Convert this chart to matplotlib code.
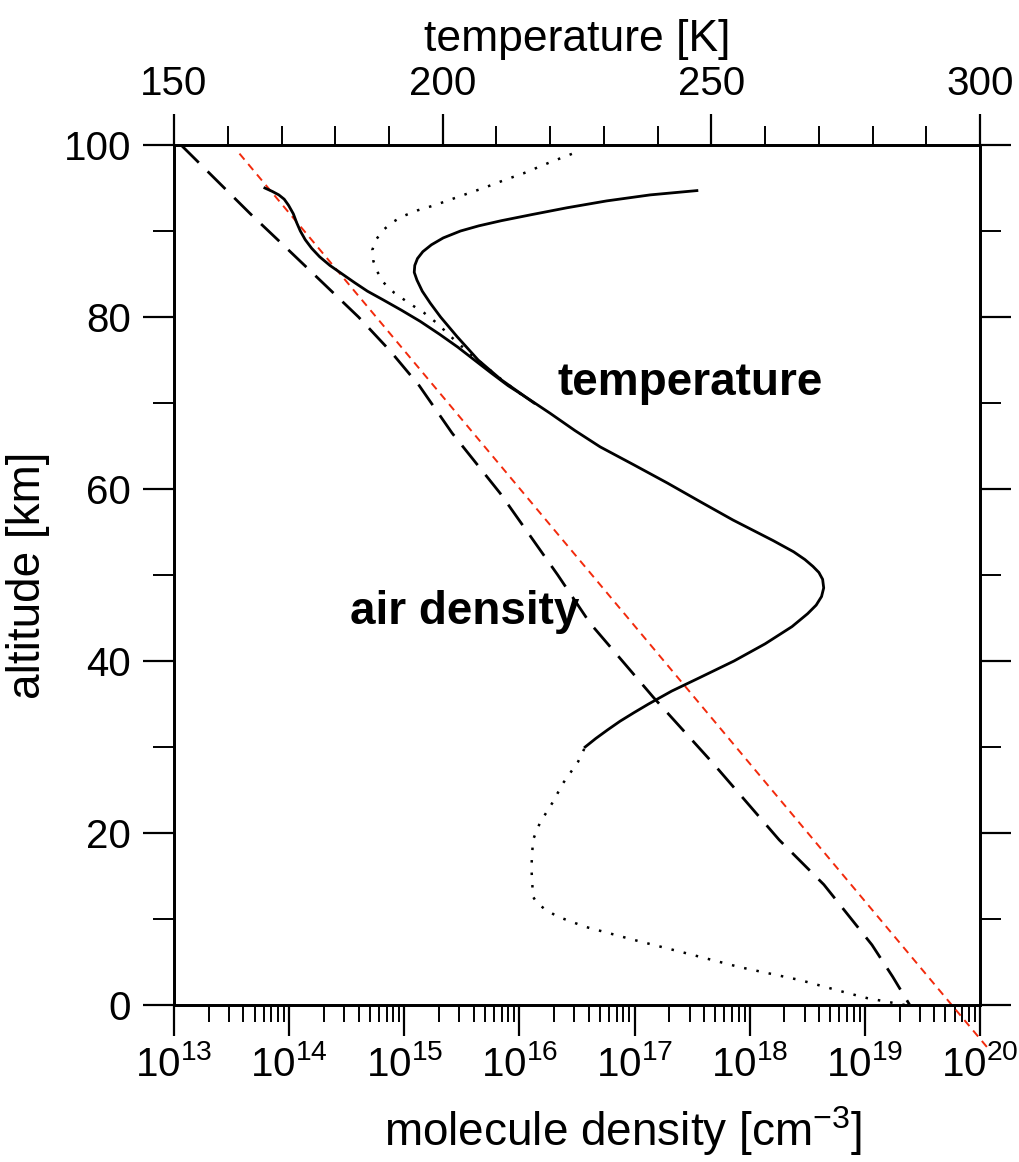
import matplotlib
matplotlib.use("Agg")
import matplotlib.pyplot as plt
from matplotlib.ticker import MultipleLocator, LogLocator, FixedLocator, NullFormatter

plt.rcParams['font.family'] = ['Liberation Sans', 'DejaVu Sans']
plt.rcParams['mathtext.fontset'] = 'custom'
plt.rcParams['mathtext.rm'] = 'Liberation Sans'
plt.rcParams['mathtext.it'] = 'Liberation Sans:italic'
plt.rcParams['mathtext.bf'] = 'Liberation Sans:bold'

# temperature profile, stratosphere/mesosphere (solid)
t_main_alt = [30.0, 31.0, 32.0, 33.0, 34.0, 35.0, 36.5, 38.0, 40.0, 42.0, 44.0, 45.5,
              46.5, 47.5, 48.5, 49.5, 50.3, 51.0, 51.8, 52.7, 54.0, 56.4, 58.5, 60.7,
              62.8, 64.9, 66.8, 68.8, 70.8, 72.7, 75.0, 77.7, 80.0, 81.6, 83.0, 84.3,
              85.2, 86.0, 86.8, 87.6, 88.4, 89.2, 90.0, 90.6, 91.2, 91.9, 92.7, 93.5,
              94.2, 94.7]
t_main_T = [226.5, 228.5, 230.7, 233.0, 235.6, 238.3, 242.6, 247.6, 254.2, 260.0, 265.0, 267.9,
            269.5, 270.5, 270.9, 270.7, 270.0, 268.9, 267.4, 265.3, 261.5, 254.0, 248.0, 241.8,
            235.6, 229.3, 224.6, 220.0, 215.2, 210.9, 206.6, 202.7, 199.6, 197.7, 196.2, 195.2,
            194.7, 194.8, 195.3, 196.3, 197.9, 200.1, 203.3, 206.7, 210.9, 216.5, 223.1, 230.5,
            238.6, 247.3]

# temperature profile, troposphere/lower stratosphere (dotted)
t_low_alt = [0.0, 0.8, 1.4, 2.9, 4.4, 6.2, 7.6, 9.1, 10.3, 11.2, 11.9, 12.6, 16.0,
             19.2, 21.2, 23.5, 25.8, 28.3, 30.0]
t_low_T = [286.0, 279.0, 275.3, 266.5, 255.3, 244.2, 235.4, 226.5, 221.3, 218.9, 217.5, 216.8,
           216.5, 216.8, 218.1, 220.4, 222.4, 225.2, 226.5]

# alternative mesosphere profile (dotted)
t_meso_alt = [71.0, 72.7, 74.5, 76.0, 77.5, 79.3, 80.5, 81.5, 82.8, 84.0, 85.3, 86.5,
              87.8, 89.0, 90.1, 91.0, 91.7, 92.4, 93.0, 94.0, 95.0, 96.0, 96.7, 98.0, 99.2]
t_meso_T = [214.6, 211.0, 207.5, 204.6, 201.9, 198.9, 196.5, 194.0, 191.0, 189.0, 187.8, 187.1,
            186.9, 187.6, 188.9, 190.6, 192.5, 195.3, 198.5, 203.0, 207.6, 211.8, 215.0, 220.0,
            225.0]

# summer mesosphere profile (solid, left)
t_summer_alt = [70.0, 71.0, 72.0, 73.5, 75.0, 76.5, 78.0, 79.5, 80.8, 82.0, 83.0, 84.0,
                85.0, 86.0, 87.0, 88.0, 89.0, 90.0, 91.0, 92.0, 93.0, 93.7, 94.2, 94.6, 95.0]
t_summer_T = [217.0, 214.7, 212.2, 209.0, 205.9, 202.8, 199.4, 195.8, 192.3, 188.9, 186.0, 183.6,
              181.3, 179.0, 177.1, 175.6, 174.4, 173.5, 172.8, 172.2, 171.3, 170.5, 169.5,
              168.3, 166.9]

# air density (long dashed)
dens_alt = [100, 96, 92, 88, 84, 80, 76, 72, 66.5, 59.5, 50, 44.4, 35.8, 28.1,
            19.2, 14, 7, 3.3, 0]
dens_n = [1.15e13, 2.3e13, 4.6e13, 9.5e13, 1.95e14, 4.0e14, 7.6e14, 1.35e15, 2.6e15,
          6.8e15, 2.15e16, 4.1e16, 1.45e17, 4.8e17, 1.8e18, 4.4e18, 1.15e19, 1.74e19, 2.45e19]

# exponential approximation (red)
exp_alt = [99.0, -5.2]
exp_n = [3.7e13, 1.2e20]

decades = [1e13, 1e14, 1e15, 1e16, 1e17, 1e18, 1e19, 1e20]

fig = plt.figure(figsize=(10.19, 11.62), dpi=100)
ax = fig.add_axes([0.1708, 0.1351, 0.7910, 0.7401])
ax2 = ax.twiny()

ax.plot(dens_n, dens_alt, color='black', lw=2, dashes=(9, 4.5))
ax.plot(exp_n, exp_alt, color='#f22a0c', lw=1.4, dashes=(4, 3), clip_on=False)

ax2.plot(t_main_T, t_main_alt, color='black', lw=2)
ax2.plot(t_summer_T, t_summer_alt, color='black', lw=2)
ax2.plot(t_low_T, t_low_alt, color='black', lw=1.8, linestyle=(0, (1, 4)))
ax2.plot(t_meso_T, t_meso_alt, color='black', lw=1.8, linestyle=(0, (1, 4)))

ax.set_xscale('log')
ax.set_xlim(1e13, 1e20)
ax.set_ylim(0, 100)
ax2.set_xlim(150, 300)

ax.xaxis.set_major_locator(FixedLocator(decades))
ax.xaxis.set_minor_locator(LogLocator(base=10, subs=range(2, 10), numticks=100))
ax.xaxis.set_minor_formatter(NullFormatter())
ax.yaxis.set_major_locator(MultipleLocator(20))
ax.yaxis.set_minor_locator(MultipleLocator(10))
ax2.xaxis.set_major_locator(MultipleLocator(50))
ax2.xaxis.set_minor_locator(MultipleLocator(10))

for a in (ax, ax2):
    for s in a.spines.values():
        s.set_linewidth(2)

ax.tick_params(axis='x', which='major', direction='out', length=22, width=1.6,
               labelsize=29, pad=7, top=False)
ax.tick_params(axis='x', which='minor', direction='out', length=12, width=1.4, top=False)
ax.tick_params(axis='y', which='major', direction='out', length=22, width=1.6,
               labelsize=29, pad=9, left=True, right=True)
ax.tick_params(axis='y', which='minor', direction='out', length=15, width=1.4,
               left=True, right=True)
ax2.tick_params(axis='x', which='major', direction='out', length=22, width=1.6,
                labelsize=29, pad=8)
ax2.tick_params(axis='x', which='minor', direction='out', length=14, width=1.4)

ax.set_ylabel('altitude [km]', fontsize=33, labelpad=10)
ax.set_xlabel('molecule density [cm$^{-3}$]', fontsize=33)
ax.xaxis.set_label_coords(0.557, -0.115)
ax2.set_xlabel('temperature [K]', fontsize=32, labelpad=10)

ax.text(0.640, 0.723, 'temperature', transform=ax.transAxes, fontsize=33,
        fontweight='bold', ha='center', va='center')
ax.text(0.360, 0.457, 'air density', transform=ax.transAxes, fontsize=33,
        fontweight='bold', ha='center', va='center')

fig.savefig('out.png', dpi=100)
